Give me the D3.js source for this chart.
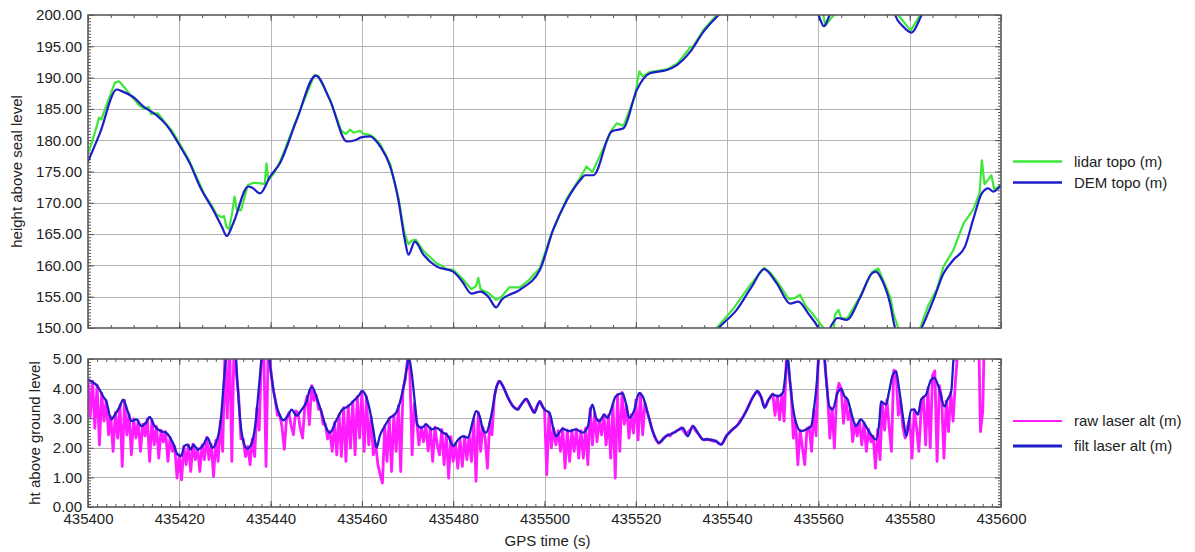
<!DOCTYPE html>
<html>
<head>
<meta charset="utf-8">
<script src="https://cdn.jsdelivr.net/npm/d3@7"></script>
<style>
  body { margin: 0; background: #fff; }
  svg text { font-family: "Liberation Sans", Arial, Helvetica, sans-serif; fill: #222; }
</style>
</head>
<body>
<svg id="chart" width="1195" height="552"></svg>
<script>
// ---- time axis -------------------------------------------------------------
const timeDomain = [435400, 435600];
const timeTicks = d3.range(435400, 435600.1, 20);

// ---- upper panel: terrain heights [GPS time (s), height (m)] ---------------
const lidarTopo = [
  [435400.0,178.0],[435400.8,179.5],[435401.9,182.2],[435402.4,183.6],[435402.9,183.3],[435404.5,186.5],
  [435405.9,189.2],[435406.8,189.4],[435407.9,188.5],[435409.3,187.2],[435410.5,186.2],[435411.3,185.5],
  [435412.4,185.0],[435413.3,185.3],[435413.8,184.2],[435415.3,184.3],[435417.0,182.7],[435418.5,181.4],
  [435420.2,179.3],[435422.0,177.0],[435424.3,173.3],[435425.5,171.3],[435427.3,169.3],[435428.2,168.1],
  [435429.3,167.7],[435429.8,167.9],[435430.3,166.2],[435430.9,165.8],[435431.6,168.5],[435432.1,171.0],
  [435432.6,168.9],[435433.5,168.8],[435435.0,172.8],[435436.2,173.2],[435437.8,173.1],[435438.7,173.0],
  [435439.1,176.3],[435439.5,173.6],[435440.8,174.8],[435442.1,176.6],[435445.7,183.4],[435448.0,187.6],
  [435449.6,190.4],[435450.5,190.2],[435453.0,186.5],[435455.5,181.5],[435456.5,181.0],[435457.4,181.7],
  [435458.2,181.2],[435459.6,181.5],[435460.4,181.0],[435461.5,180.9],[435462.5,180.5],[435464.0,179.4],
  [435466.2,176.2],[435468.0,170.8],[435469.3,165.2],[435470.2,163.4],[435471.0,164.0],[435471.8,164.1],
  [435473.5,162.3],[435476.4,160.3],[435477.4,160.0],[435478.5,159.4],[435480.0,159.3],[435482.0,157.9],
  [435484.0,156.2],[435485.0,156.7],[435485.5,158.0],[435486.0,156.2],[435487.7,155.6],[435489.4,154.5],
  [435490.6,155.0],[435492.3,156.5],[435494.6,156.5],[435496.5,157.6],[435499.0,159.6],[435501.5,165.0],
  [435504.9,170.7],[435507.8,174.0],[435509.2,175.8],[435510.5,174.9],[435514.7,181.6],[435515.8,182.7],
  [435517.3,182.3],[435519.8,187.0],[435520.4,189.6],[435520.8,191.0],[435521.5,190.2],[435523.1,190.9],
  [435526.8,191.3],[435529.0,192.2],[435531.5,194.4],[435531.9,194.9],[435532.6,195.0],[435534.8,197.6],
  [435538.2,200.4],[435541.5,203.2],[435545.0,206.8],[435548.1,209.6],[435549.5,208.8],[435551.0,207.4],
  [435553.5,204.6],[435554.8,204.8],[435556.0,205.3],[435557.2,203.5],[435558.7,202.3],[435561.1,200.0],
  [435561.5,198.3],[435562.8,199.5],[435563.4,200.0],[435563.6,202.1],[435564.4,202.9],[435565.0,201.6],
  [435566.3,201.5],[435569.1,205.0],[435571.7,208.9],[435573.1,209.5],[435574.0,208.0],[435575.8,204.8],
  [435576.4,202.4],[435577.5,200.0],[435580.2,197.5],[435582.3,200.0],[435584.0,203.5],[435585.9,206.1],
  [435587.4,209.8],[435589.6,212.5],[435591.8,216.7],[435593.9,218.9],[435595.3,221.5],[435595.8,226.8],
  [435596.4,223.0],[435597.2,223.7],[435597.9,224.4],[435598.5,222.2],[435599.3,222.5],[435600.0,222.9]
];

const demTopo = [
  [435400.0,176.6],[435402.6,181.1],[435406.3,188.1],[435407.5,187.8],[435409.9,186.9],[435412.1,185.4],
  [435415.0,184.0],[435417.2,182.4],[435420.2,179.0],[435422.3,176.3],[435424.5,172.6],[435427.4,168.9],
  [435429.3,166.2],[435430.4,164.7],[435431.8,166.7],[435435.1,172.6],[435436.0,172.4],[435437.7,171.5],
  [435439.9,174.2],[435442.1,176.4],[435445.7,183.2],[435449.9,190.3],[435453.0,186.4],[435456.7,179.8],
  [435458.5,180.0],[435460.0,180.5],[435461.8,180.6],[435464.0,179.0],[435466.2,175.8],[435468.0,170.4],
  [435469.4,164.1],[435470.2,161.7],[435471.6,163.8],[435473.5,161.7],[435476.4,159.8],[435480.0,159.0],
  [435482.0,157.4],[435484.0,155.5],[435485.9,155.8],[435487.7,155.0],[435489.4,153.3],[435490.6,154.5],
  [435494.6,156.1],[435499.0,159.3],[435501.9,165.7],[435504.9,170.4],[435507.8,173.6],[435508.9,174.4],
  [435510.7,174.4],[435514.7,181.4],[435517.3,181.9],[435520.2,188.0],[435523.1,190.7],[435526.8,191.2],
  [435529.0,192.0],[435531.9,194.1],[435534.8,197.3],[435538.4,200.2],[435542.1,202.9],[435545.4,206.6],
  [435548.1,209.4],[435550.9,207.1],[435553.8,203.9],[435555.6,204.2],[435557.8,202.3],[435560.0,200.0],
  [435561.2,198.2],[435562.5,200.0],[435564.2,201.6],[435566.2,201.3],[435569.1,204.8],[435571.7,208.7],
  [435572.6,209.0],[435573.9,207.7],[435575.7,203.9],[435576.8,200.0],[435578.5,198.2],[435580.4,197.2],
  [435582.6,200.0],[435585.2,204.5],[435587.4,208.7],[435589.6,210.9],[435592.1,213.0],[435593.9,217.3],
  [435595.8,221.5],[435597.2,222.3],[435598.3,221.8],[435600.0,222.8]
];

// ---- lower panel: laser altimeter ------------------------------------------
// raw returns, one sample every 0.5 s starting at 435400.0
const rawStart = 435400, rawStep = 0.5;
const rawLaserAlt = [
  4.35,3.05, 4.25,2.66, 4.12,2.10, 3.85,2.90, 3.60,2.44, 3.05,1.88, 3.20,2.33, 3.45,1.37, 3.60,2.44, 3.15,1.76,
  2.98,2.33, 2.92,1.88, 2.80,2.40, 2.98,1.54, 2.95,2.10, 2.72,1.65, 2.60,2.20, 2.55,1.54, 2.35,1.88, 2.05,0.98,
  1.78,0.92, 2.05,1.43, 2.10,1.20, 2.12,1.60, 1.98,1.20, 2.10,1.60, 2.35,1.60, 2.12,1.03, 2.25,1.54, 2.90,1.88,
  5.30,3.00, 5.80,1.54, 5.60,4.50, 3.75,2.30, 2.30,1.70, 2.05,1.43, 2.30,1.70, 3.35,2.60, 5.10,5.40, 1.37,5.60,
  4.70,4.00, 3.65,3.10, 3.12,2.70, 1.95,3.00, 3.18,2.75, 2.44,3.25, 3.18,2.66, 2.33,3.40, 3.75,2.78, 4.10,3.60,
  3.78,3.30, 3.30,2.80, 2.80,2.30, 2.55,1.88, 2.85,1.76, 3.12,1.71, 3.36,1.54, 3.42,1.99, 3.56,1.76, 3.73,2.33,
  3.92,1.88, 3.72,2.10, 3.05,1.76, 2.15,1.43, 1.09,0.81, 2.74,1.54, 3.00,1.20, 3.12,1.88, 3.42,1.20, 3.96,4.30,
  5.00,4.60, 1.76,3.50, 2.92,2.10, 2.70,2.20, 2.80,1.90, 2.68,1.54, 2.70,2.10, 1.76,2.62, 1.43,2.48, 0.98,2.38,
  1.54,2.15, 1.31,2.30, 1.37,2.38, 1.60,2.40, 1.54,2.95, 0.87,3.20, 1.88,2.70, 2.33,1.31, 2.86,2.44, 3.72,4.05,
  4.25,4.18, 4.05,3.88, 3.70,3.55, 3.42,3.35, 3.30,3.38, 3.48,3.58, 3.65,3.52, 3.38,3.22, 3.28,3.45, 3.57,3.40,
  3.30,1.09, 3.20,2.00, 2.65,2.10, 2.58,1.88, 2.66,1.31, 2.60,1.54, 2.60,1.88, 2.63,1.65, 2.58,1.65, 2.66,1.43,
  3.32,2.10, 3.18,2.21, 2.93,2.44, 3.12,2.10, 3.10,1.65, 3.48,0.98, 3.80,1.88, 3.87,2.80, 3.42,2.33, 3.12,2.50,
  3.62,2.27, 3.85,2.44, 3.52,3.20, 2.95,2.65, 2.42,2.25, 2.15,2.22, 2.32,2.38, 2.44,2.40, 2.50,2.52, 2.58,2.62,
  2.68,2.55, 2.45,2.55, 2.62,2.74, 2.60,2.50, 2.40,2.30, 2.26,2.30, 2.27,2.25, 2.22,2.24, 2.16,2.12, 2.15,2.30,
  2.44,2.52, 2.60,2.66, 2.72,2.82, 2.95,3.05, 3.20,3.35, 3.52,3.68, 3.80,3.92, 3.82,3.70, 3.45,3.40, 3.60,3.72,
  3.82,3.10, 3.76,2.95, 3.82,2.90, 5.10,4.60, 3.95,2.33, 2.90,1.43, 2.60,2.00, 1.43,2.65, 2.70,1.88, 3.30,2.40,
  5.10,5.50, 5.50,4.70, 3.90,2.33, 3.35,1.99, 3.80,4.18, 4.00,2.83, 3.70,2.95, 3.30,2.21, 2.82,2.40, 2.92,2.10,
  2.85,1.88, 2.62,2.20, 2.40,1.31, 2.62,1.60, 3.52,2.60, 3.62,2.70, 1.88,4.62, 4.58,3.10, 3.60,2.70, 2.33,2.70,
  3.00,1.65, 3.30,2.70, 1.88,3.30, 3.72,2.10, 4.02,2.00, 4.45,4.60, 1.54,4.10, 3.68,1.65, 3.58,2.55, 3.86,2.90,
  4.20,5.20, 5.60,6.00, 6.30,6.40, 6.50,6.60, 6.60,6.70, 6.80,2.55, 3.22,6.90, 7.00,7.00, 7.10,7.10, 7.20,7.20,
  7.20
];

// filtered altitude [GPS time (s), height (m)]
const filtLaserAlt = [
  [435400.0,4.30],[435401.0,4.22],[435402.0,4.10],[435403.3,3.74],[435404.0,3.57],[435405.1,2.96],[435405.9,3.12],
  [435407.0,3.40],[435407.7,3.63],[435408.8,3.18],[435409.5,2.90],[435410.6,2.96],[435411.7,2.73],[435412.8,2.87],
  [435413.5,3.04],[435414.6,2.73],[435416.0,2.56],[435417.1,2.51],[435418.6,2.17],[435419.6,1.78],[435420.4,1.72],
  [435421.1,2.06],[435421.8,2.11],[435422.5,1.94],[435423.1,2.11],[435424.0,1.94],[435425.1,2.06],[435426.2,2.34],
  [435427.2,2.00],[435428.3,2.28],[435429.1,2.96],[435429.8,4.30],[435430.5,5.40],[435431.4,5.80],[435432.3,5.30],
  [435432.7,4.30],[435433.4,2.84],[435434.1,2.17],[435434.9,1.97],[435435.9,2.17],[435436.7,2.84],[435437.4,3.97],
  [435438.1,5.10],[435438.9,5.60],[435439.6,5.10],[435440.3,4.30],[435441.0,3.63],[435442.1,3.07],[435442.8,2.93],
  [435443.9,3.12],[435444.6,3.29],[435445.7,3.09],[435446.8,3.29],[435447.9,3.57],[435448.6,3.97],[435449.1,4.06],
  [435450.0,3.74],[435451.2,3.18],[435452.2,2.67],[435453.0,2.51],[435454.3,2.90],[435455.7,3.29],[435457.0,3.40],
  [435458.1,3.57],[435459.2,3.74],[435460.1,3.91],[435460.9,3.74],[435461.7,3.29],[435462.5,2.62],[435463.2,2.00],
  [435463.9,2.39],[435465.0,2.73],[435466.1,3.01],[435467.2,3.12],[435468.3,3.52],[435469.2,4.13],[435469.9,4.75],
  [435470.3,5.05],[435470.9,4.53],[435471.6,3.52],[435472.1,2.79],[435473.0,2.67],[435474.1,2.79],[435475.2,2.62],
  [435476.3,2.67],[435477.8,2.51],[435478.9,2.39],[435480.0,2.06],[435481.1,2.28],[435482.2,2.39],[435483.2,2.34],
  [435484.3,2.90],[435485.0,3.24],[435485.8,3.07],[435486.5,2.62],[435487.2,2.51],[435488.0,2.84],[435488.7,3.40],
  [435489.4,4.02],[435490.2,4.25],[435490.9,4.08],[435492.0,3.69],[435493.1,3.40],[435494.2,3.29],[435494.9,3.46],
  [435496.0,3.65],[435497.1,3.35],[435497.8,3.18],[435498.9,3.57],[435500.0,3.29],[435501.1,3.18],[435502.0,2.62],
  [435502.5,2.39],[435504.0,2.64],[435505.4,2.56],[435506.9,2.62],[435508.4,2.51],[435509.5,2.73],[435510.2,3.35],
  [435510.5,3.46],[435511.3,3.01],[435512.0,2.90],[435513.1,3.12],[435513.8,3.01],[435514.6,3.29],[435515.6,3.74],
  [435517.1,3.85],[435517.8,3.52],[435518.6,3.01],[435519.7,3.29],[435520.7,3.85],[435521.5,3.74],[435522.6,3.18],
  [435523.7,2.56],[435525.1,2.17],[435526.6,2.39],[435528.0,2.48],[435529.5,2.62],[435530.3,2.67],[435531.4,2.39],
  [435532.5,2.73],[435533.6,2.51],[435534.7,2.28],[435536.1,2.28],[435537.6,2.22],[435538.7,2.11],[435539.8,2.39],
  [435541.2,2.62],[435542.7,2.84],[435544.2,3.24],[435545.6,3.69],[435546.7,3.91],[435547.4,3.74],[435548.2,3.35],
  [435548.9,3.57],[435550.0,3.80],[435551.1,3.74],[435552.2,3.85],[435552.9,4.64],[435553.3,5.10],[435553.8,4.19],
  [435554.4,3.40],[435555.1,2.84],[435556.2,2.56],[435557.3,2.62],[435558.4,2.73],[435559.1,3.40],[435559.7,4.30],
  [435560.1,5.20],[435560.7,5.60],[435561.3,5.20],[435561.7,4.30],[435562.4,3.40],[435563.1,3.29],[435564.2,3.85],
  [435565.0,3.99],[435565.7,3.74],[435566.4,3.63],[435567.2,3.18],[435568.2,2.73],[435569.3,2.96],[435570.4,2.73],
  [435571.5,2.45],[435572.6,2.28],[435573.4,2.96],[435573.7,3.57],[435574.8,3.46],[435575.5,3.91],[435576.3,4.47],
  [435577.0,4.58],[435577.7,3.97],[435578.5,3.07],[435579.3,2.39],[435580.3,3.29],[435581.0,3.29],[435581.8,3.12],
  [435582.5,3.63],[435583.6,3.80],[435584.7,4.30],[435585.4,4.36],[435586.5,3.97],[435587.6,3.40],[435588.3,3.63],
  [435589.1,3.91],[435589.6,5.00],[435590.2,5.80],[435592.0,6.50],[435596.0,7.00],[435600.0,7.20]
];

// ---- axis ticks and legend labels ------------------------------------------
const topTicks = d3.range(150, 200.01, 5);
const botTicks = d3.range(0, 5.01, 1);
const topLegend = ["lidar topo (m)", "DEM topo (m)"];
const botLegend = ["raw laser alt (m)", "filt laser alt (m)"];

// ---- layout ----------------------------------------------------------------
const colors = { lidar: "#3de83a", dem: "#1e1ec8", raw: "#ff1cff", filt: "#1e1ec8" };
const plotL = 88, plotR = 1001;
const topBox = { y0: 15, y1: 328 };
const botBox = { y0: 359, y1: 507 };

const svg = d3.select("#chart");
const x = d3.scaleLinear().domain(timeDomain).range([plotL, plotR]);
const yTop = d3.scaleLinear().domain([150, 200]).range([topBox.y1, topBox.y0]);
const yBot = d3.scaleLinear().domain([0, 5]).range([botBox.y1, botBox.y0]);

const defs = svg.append("defs");
function clip(id, box) {
  defs.append("clipPath").attr("id", id).append("rect")
    .attr("x", plotL).attr("y", box.y0).attr("width", plotR - plotL).attr("height", box.y1 - box.y0);
  return `url(#${id})`;
}

function styleAxis(sel, strokeColor) {
  sel.select(".domain").remove();
  sel.selectAll(".tick line").attr("stroke", strokeColor);
  sel.selectAll(".tick text").attr("font-size", 15).attr("fill", "#222")
    .attr("font-family", '"Liberation Sans", Arial, sans-serif');
}

function panelFrame(box, y, yMajor, yMinorStep, xMinorStep) {
  const g = svg.append("g");
  const h = box.y1 - box.y0, w = plotR - plotL;
  // grid
  const inner = yMajor.slice(1, -1);
  g.append("g").attr("transform", `translate(${plotL},0)`)
    .call(d3.axisLeft(y).tickValues(inner).tickSize(-w).tickFormat(""))
    .call(s => styleAxis(s, "#b2b2b2"))
    .attr("shape-rendering", "crispEdges");
  g.append("g").attr("transform", `translate(0,${box.y1})`)
    .call(d3.axisBottom(x).tickValues(timeTicks.slice(1, -1)).tickSize(-h).tickFormat(""))
    .call(s => styleAxis(s, "#b8b8b8"))
    .attr("shape-rendering", "crispEdges");
  // minor ticks, all four sides, pointing inward
  const dom = y.domain();
  const yMinor = d3.range(dom[0], dom[1] + 1e-9, yMinorStep);
  const xMinor = d3.range(timeDomain[0], timeDomain[1] + 1e-9, xMinorStep);
  const tickCol = "#555";
  [[d3.axisLeft(y), plotL, 0], [d3.axisRight(y), plotR, 0]].forEach(([ax, tx]) => {
    g.append("g").attr("transform", `translate(${tx},0)`)
      .call(ax.tickValues(yMinor).tickSize(-3).tickFormat("")).call(s => styleAxis(s, tickCol));
    g.append("g").attr("transform", `translate(${tx},0)`)
      .call(ax.tickValues(yMajor).tickSize(-6).tickFormat("")).call(s => styleAxis(s, tickCol));
  });
  [[d3.axisTop(x), box.y0], [d3.axisBottom(x), box.y1]].forEach(([ax, ty]) => {
    g.append("g").attr("transform", `translate(0,${ty})`)
      .call(ax.tickValues(xMinor).tickSize(-3).tickFormat("")).call(s => styleAxis(s, tickCol));
    g.append("g").attr("transform", `translate(0,${ty})`)
      .call(ax.tickValues(timeTicks).tickSize(-6).tickFormat("")).call(s => styleAxis(s, tickCol));
  });
  // y labels
  g.append("g").attr("transform", `translate(${plotL},0)`)
    .call(d3.axisLeft(y).tickValues(yMajor).tickSize(0).tickPadding(6).tickFormat(d3.format(".2f")))
    .call(s => styleAxis(s, tickCol));
  return g;
}

// ---- upper panel -------------------------------------------------------------
panelFrame(topBox, yTop, topTicks, 0.5, 5);
const topClip = clip("clipTop", topBox);
const topSpan = yTop.domain()[1] - yTop.domain()[0];
const topG = svg.append("g").attr("clip-path", topClip);
// heights beyond the top of the axis wrap round to the bottom of the panel
function drawWrapped(data, color, width, curve) {
  [0, topSpan].forEach(off => {
    topG.append("path").datum(data)
      .attr("fill", "none").attr("stroke", color).attr("stroke-width", width)
      .attr("stroke-linejoin", "round")
      .attr("d", d3.line().x(d => x(d[0])).y(d => yTop(d[1] - off)).curve(curve));
  });
}
drawWrapped(lidarTopo, colors.lidar, 2.2, d3.curveLinear);
drawWrapped(demTopo, colors.dem, 2.2, d3.curveMonotoneX);

// ---- lower panel -------------------------------------------------------------
panelFrame(botBox, yBot, botTicks, 0.1, 2);
const botClip = clip("clipBot", botBox);
const botG = svg.append("g").attr("clip-path", botClip);
botG.append("path").datum(rawLaserAlt)
  .attr("fill", "none").attr("stroke", colors.raw).attr("stroke-width", 2.8)
  .attr("stroke-linejoin", "round")
  .attr("d", d3.line().x((d, i) => x(rawStart + i * rawStep)).y(d => yBot(d)));
botG.append("path").datum(filtLaserAlt)
  .attr("fill", "none").attr("stroke", colors.filt).attr("stroke-width", 2.3)
  .attr("stroke-linejoin", "round")
  .attr("d", d3.line().x(d => x(d[0])).y(d => yBot(d[1])).curve(d3.curveMonotoneX));

// x labels under the lower panel
svg.append("g").attr("transform", `translate(0,${botBox.y1})`)
  .call(d3.axisBottom(x).tickValues(timeTicks).tickSize(0).tickPadding(6).tickFormat(d3.format("d")))
  .call(s => styleAxis(s, "#555"));

// frames
[topBox, botBox].forEach(b => {
  svg.append("rect").attr("x", plotL).attr("y", b.y0)
    .attr("width", plotR - plotL).attr("height", b.y1 - b.y0)
    .attr("fill", "none").attr("stroke", "#5a5a5a").attr("stroke-width", 1.6);
});

// axis titles
svg.append("text").attr("transform", `translate(17,${(topBox.y0 + topBox.y1) / 2}) rotate(-90)`)
  .attr("text-anchor", "middle").attr("dy", "0.35em").attr("font-size", 15)
  .text("height above seal level");
svg.append("text").attr("transform", `translate(35,${(botBox.y0 + botBox.y1) / 2}) rotate(-90)`)
  .attr("text-anchor", "middle").attr("dy", "0.35em").attr("font-size", 15)
  .text("ht above ground level");
svg.append("text").attr("x", (plotL + plotR) / 2 + 3).attr("y", 546)
  .attr("text-anchor", "middle").attr("font-size", 15).text("GPS time (s)");

// legends
function legend(items, cols, widths, y0, dy) {
  items.forEach((label, i) => {
    const yy = y0 + i * dy;
    svg.append("line").attr("x1", 1013).attr("x2", 1062).attr("y1", yy).attr("y2", yy)
      .attr("stroke", cols[i]).attr("stroke-width", widths[i]);
    svg.append("text").attr("x", 1074).attr("y", yy).attr("dy", "0.35em")
      .attr("font-size", 15).text(label);
  });
}
legend(topLegend, [colors.lidar, colors.dem], [2.5, 2.5], 161.5, 21);
legend(botLegend, [colors.raw, colors.filt], [2, 3], 421, 25);
</script>
</body>
</html>
